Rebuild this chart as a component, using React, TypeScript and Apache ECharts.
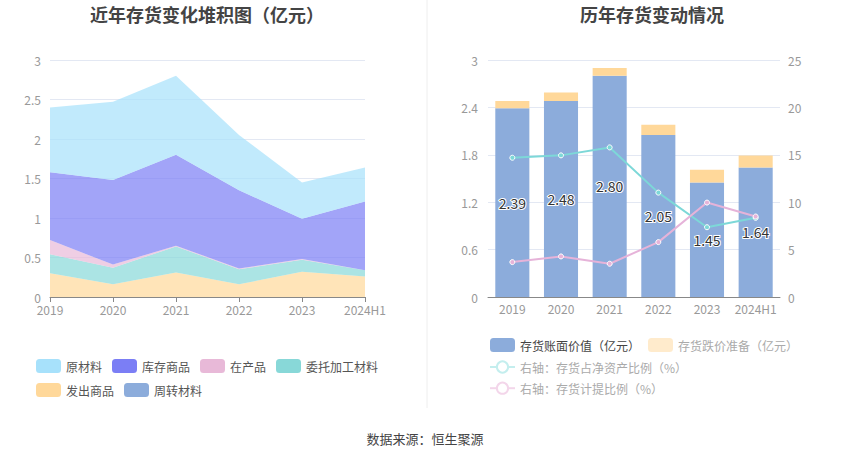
import React, { useEffect, useRef } from "react";
import * as echarts from "echarts";

const years = ["2019", "2020", "2021", "2022", "2023", "2024H1"];
// left stacked area (亿元)
const zhouzhuan = [0, 0, 0, 0, 0, 0];
const fachu = [0.3, 0.16, 0.31, 0.16, 0.32, 0.26];
const weituo = [0.24, 0.21, 0.33, 0.19, 0.15, 0.08];
const zaichan = [0.18, 0.04, 0.01, 0.01, 0.01, 0.0];
const kucun = [0.86, 1.07, 1.15, 0.99, 0.51, 0.87];
const yuancailiao = [0.82, 0.99, 1.0, 0.7, 0.46, 0.43];
// right chart
const bookValue = [2.39, 2.48, 2.8, 2.05, 1.45, 1.64];
const reserve = [0.09, 0.11, 0.1, 0.13, 0.16, 0.15];
const ratioNetAsset = [14.69, 14.94, 15.78, 11.01, 7.36, 8.35];
const ratioReserve = [3.68, 4.28, 3.51, 5.79, 9.96, 8.49];
const leftTicks = [0, 0.5, 1, 1.5, 2, 2.5, 3];

const FONT = "'Noto Sans CJK SC', 'Noto Sans', sans-serif";
const C = {
  yuan: "#A7E1FB",
  kucun: "#7B7EF5",
  zaichan: "#E8B9D8",
  weituo: "#88D8D8",
  fachu: "#FFD89A",
  zhouzhuan: "#8CACDB",
};

export default function App() {
  const ref = useRef<HTMLDivElement>(null);
  useEffect(() => {
    const chart = echarts.init(ref.current!, undefined, { renderer: "svg" });
    const axisLabel = { color: "#999", fontSize: 12, fontFamily: FONT };
    const splitLine = { lineStyle: { color: "#E3E8F3" } };
    const area = (name: string, data: number[], color: string) => ({
      name,
      type: "line",
      stack: "inv",
      xAxisIndex: 0,
      yAxisIndex: 0,
      data,
      symbol: "none",
      lineStyle: { width: 0 },
      itemStyle: { color },
      areaStyle: { color, opacity: 0.7 },
    });
    chart.setOption({
      animation: false,
      textStyle: { fontFamily: FONT },
      title: [
        {
          text: "近年存货变化堆积图（亿元）",
          left: 202,
          top: 0,
          textAlign: "center",
          textStyle: { fontSize: 18, fontWeight: "bold", color: "#444", fontFamily: FONT },
        },
        {
          text: "历年存货变动情况",
          left: 647,
          top: 0,
          textAlign: "center",
          textStyle: { fontSize: 18, fontWeight: "bold", color: "#444", fontFamily: FONT },
        },
      ],
      legend: [
        {
          left: 31,
          top: 354,
          width: 370,
          itemWidth: 25,
          itemHeight: 14,
          itemGap: 10,
          icon: "roundRect",
          textStyle: { color: "#555", fontSize: 12, fontFamily: FONT },
          data: [
            { name: "原材料", itemStyle: { color: C.yuan } },
            { name: "库存商品", itemStyle: { color: C.kucun } },
            { name: "在产品", itemStyle: { color: C.zaichan } },
            { name: "委托加工材料", itemStyle: { color: C.weituo } },
            { name: "发出商品", itemStyle: { color: C.fachu } },
            { name: "周转材料", itemStyle: { color: C.zhouzhuan } },
          ],
        },
        {
          left: 484,
          top: 333,
          width: 320,
          itemWidth: 25,
          itemHeight: 14,
          itemGap: 8,
          textStyle: { color: "#aaa", fontSize: 12, fontFamily: FONT },
          data: [
            { name: "存货账面价值（亿元）", icon: "roundRect", textStyle: { color: "#444" } },
            { name: "存货跌价准备（亿元）", icon: "roundRect", itemStyle: { color: "#FFEBCC" } },
            { name: "右轴：存货占净资产比例（%）", itemStyle: { color: "#fff", borderColor: "#C4EEEE" }, lineStyle: { color: "#C4EEEE" } },
            { name: "右轴：存货计提比例（%）", itemStyle: { color: "#fff", borderColor: "#F3D6EA" }, lineStyle: { color: "#F3D6EA" } },
          ],
        },
      ],
      grid: [
        { left: 50, right: 485, top: 60, bottom: 162 },
        { left: 488, right: 70, top: 60, bottom: 162 },
      ],
      xAxis: [
        {
          type: "category",
          gridIndex: 0,
          data: years,
          boundaryGap: false,
          axisLine: { lineStyle: { color: "#888" } },
          axisTick: { lineStyle: { color: "#888" } },
          axisLabel: { ...axisLabel, margin: 6, interval: 0 },
        },
        {
          type: "category",
          gridIndex: 1,
          data: years,
          axisLine: { lineStyle: { color: "#888" } },
          axisTick: { alignWithLabel: true, lineStyle: { color: "#888" } },
          axisLabel: { ...axisLabel, margin: 5, interval: 0 },
        },
      ],
      yAxis: [
        {
          type: "value",
          gridIndex: 0,
          min: leftTicks[0],
          max: leftTicks[leftTicks.length - 1],
          interval: 0.5,
          axisLabel: { ...axisLabel, margin: 9 },
          splitLine,
        },
        {
          type: "value",
          gridIndex: 1,
          min: 0,
          max: 3,
          interval: 0.6,
          axisLabel: { ...axisLabel, margin: 10 },
          splitLine,
        },
        {
          type: "value",
          gridIndex: 1,
          position: "right",
          min: 0,
          max: 25,
          interval: 5,
          axisLabel: { ...axisLabel, margin: 8 },
          splitLine: { show: false },
        },
      ],
      series: [
        area("周转材料", zhouzhuan, C.zhouzhuan),
        area("发出商品", fachu, C.fachu),
        area("委托加工材料", weituo, C.weituo),
        area("在产品", zaichan, C.zaichan),
        area("库存商品", kucun, C.kucun),
        area("原材料", yuancailiao, C.yuan),
        {
          name: "存货账面价值（亿元）",
          type: "bar",
          stack: "bar",
          xAxisIndex: 1,
          yAxisIndex: 1,
          data: bookValue,
          barWidth: "70%",
          itemStyle: { color: "#8CACDB" },
          label: {
            show: true,
            position: "inside",
            formatter: (p: any) => p.value.toFixed(2),
            color: "#333",
            fontSize: 14,
            fontFamily: FONT,
            textBorderColor: "#fff",
            textBorderWidth: 2,
          },
        },
        {
          name: "存货跌价准备（亿元）",
          type: "bar",
          stack: "bar",
          xAxisIndex: 1,
          yAxisIndex: 1,
          data: reserve,
          barWidth: "70%",
          itemStyle: { color: "#FFD89A" },
        },
        {
          name: "右轴：存货占净资产比例（%）",
          type: "line",
          xAxisIndex: 1,
          yAxisIndex: 2,
          data: ratioNetAsset,
          symbol: "circle",
          symbolSize: 5,
          lineStyle: { width: 2, color: "#7DD8D8" },
          itemStyle: { color: "#7DD8D8", borderColor: "#fff", borderWidth: 1 },
        },
        {
          name: "右轴：存货计提比例（%）",
          type: "line",
          xAxisIndex: 1,
          yAxisIndex: 2,
          data: ratioReserve,
          symbol: "circle",
          symbolSize: 5,
          lineStyle: { width: 2, color: "#E6B3D9" },
          itemStyle: { color: "#E6B3D9", borderColor: "#fff", borderWidth: 1 },
        },
      ],
      graphic: [
        {
          type: "line",
          shape: { x1: 427, y1: 0, x2: 427, y2: 408 },
          style: { stroke: "#EEEEEE", lineWidth: 1 },
        },
        {
          type: "text",
          x: 425,
          y: 438,
          style: {
            text: "数据来源：恒生聚源",
            fill: "#444",
            fontSize: 13,
            fontFamily: FONT,
            textAlign: "center",
            textVerticalAlign: "middle",
          },
        },
      ],
    });
    return () => chart.dispose();
  }, []);
  return (
    <div
      ref={ref}
      style={{ position: "absolute", left: 0, top: 0, width: 850, height: 459, background: "#fff" }}
    />
  );
}
